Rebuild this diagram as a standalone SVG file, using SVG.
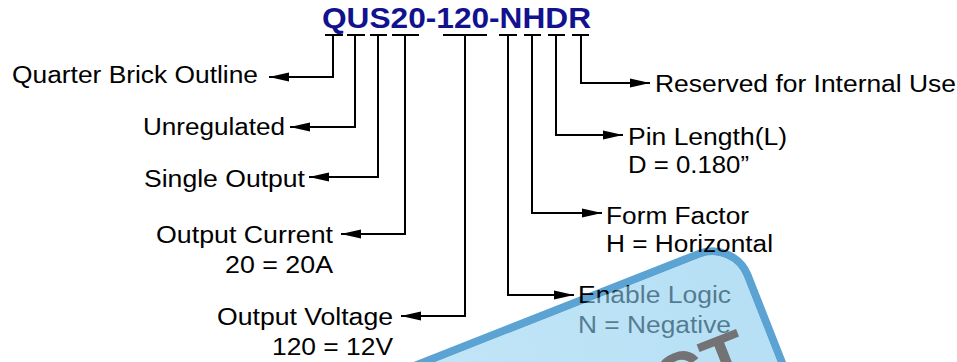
<svg xmlns="http://www.w3.org/2000/svg" width="957" height="362" viewBox="0 0 957 362">
<style>
.lbl{font-family:"Liberation Sans",Arial,sans-serif;font-size:23.5px;fill:#000}
.title{font-family:"Liberation Sans",Arial,sans-serif;font-size:29.5px;font-weight:bold;fill:#12128f}
.bar{stroke:#000;stroke-width:2;fill:none}
.con{stroke:#000;stroke-width:2;fill:none;marker-end:url(#ah)}
.stamp{font-family:"Liberation Sans",Arial,sans-serif;font-size:72px;font-weight:bold;fill:#6b6767}
</style>
<defs>
<marker id="ah" viewBox="0 0 20 10" refX="20" refY="5" markerWidth="20" markerHeight="10" markerUnits="userSpaceOnUse" orient="auto">
<path d="M0,0.5 L20,5 L0,9.5 z" fill="#000"/>
</marker>
<linearGradient id="bg" x1="0" y1="0" x2="1" y2="0">
<stop offset="0" stop-color="#B4E0F6"/>
<stop offset="1" stop-color="#86CBEE"/>
</linearGradient>
</defs>
<rect width="957" height="362" fill="#fff"/>
<g id="banner-stroke" transform="rotate(-21.5 736 235)">
<rect x="-68" y="239" width="800" height="400" rx="38" fill="none" stroke="#5AA3D3" stroke-width="8"/>
</g>
<g id="title"><text class="title" x="322" y="28" textLength="269" lengthAdjust="spacingAndGlyphs">QUS20-120-NHDR</text></g>
<g id="connectors">
<path class="bar" d="M325,35 H343 M347,35 H365 M370,35 H387 M392,35 H419 M443,35 H487 M499,35 H517 M524,35 H541 M548,35 H565 M572,35 H589"/>
<path class="con" d="M333,35 V77 H269"/>
<path class="con" d="M355,35 V127 H290"/>
<path class="con" d="M378,35 V177 H309"/>
<path class="con" d="M405,35 V234 H341"/>
<path class="con" d="M465,35 V316 H401"/>
<path class="con" d="M508,35 V295 H574"/>
<path class="con" d="M532,35 V213 H602"/>
<path class="con" d="M556,35 V135 H623"/>
<path class="con" d="M581,35 V83 H650"/>
</g>
<g id="quarter"><text class="lbl" x="12" y="83" textLength="246" lengthAdjust="spacingAndGlyphs">Quarter Brick Outline</text></g>
<g id="unregulated"><text class="lbl" x="143" y="135" textLength="142" lengthAdjust="spacingAndGlyphs">Unregulated</text></g>
<g id="single"><text class="lbl" x="144" y="187" textLength="161" lengthAdjust="spacingAndGlyphs">Single Output</text></g>
<g id="current">
<text class="lbl" x="156" y="243" textLength="177" lengthAdjust="spacingAndGlyphs">Output Current</text>
<text class="lbl" x="225" y="273" textLength="108" lengthAdjust="spacingAndGlyphs">20 = 20A</text>
</g>
<g id="voltage">
<text class="lbl" x="217" y="325" textLength="176" lengthAdjust="spacingAndGlyphs">Output Voltage</text>
<text class="lbl" x="272" y="355" textLength="121" lengthAdjust="spacingAndGlyphs">120 = 12V</text>
</g>
<g id="reserved"><text class="lbl" x="655" y="92" textLength="301" lengthAdjust="spacingAndGlyphs">Reserved for Internal Use</text></g>
<g id="pin">
<text class="lbl" x="628" y="145" textLength="159" lengthAdjust="spacingAndGlyphs">Pin Length(L)</text>
<text class="lbl" x="628" y="173" textLength="121" lengthAdjust="spacingAndGlyphs">D = 0.180”</text>
</g>
<g id="form">
<text class="lbl" x="606" y="224" textLength="143" lengthAdjust="spacingAndGlyphs">Form Factor</text>
<text class="lbl" x="606" y="252" textLength="167" lengthAdjust="spacingAndGlyphs">H = Horizontal</text>
</g>
<g id="enable">
<text class="lbl" x="578" y="303" textLength="153" lengthAdjust="spacingAndGlyphs">Enable Logic</text>
<text class="lbl" x="578" y="333" textLength="153" lengthAdjust="spacingAndGlyphs">N = Negative</text>
</g>
<g id="banner" transform="rotate(-21.5 736 235)">
<rect x="-64" y="243" width="792" height="392" rx="34" fill="url(#bg)" fill-opacity="0.6"/>
</g>
<g id="stamp"><text class="stamp" x="755" y="375" text-anchor="end" transform="rotate(-21.5 755 375)" fill-opacity="0.9">PRODUCT</text></g>
</svg>
